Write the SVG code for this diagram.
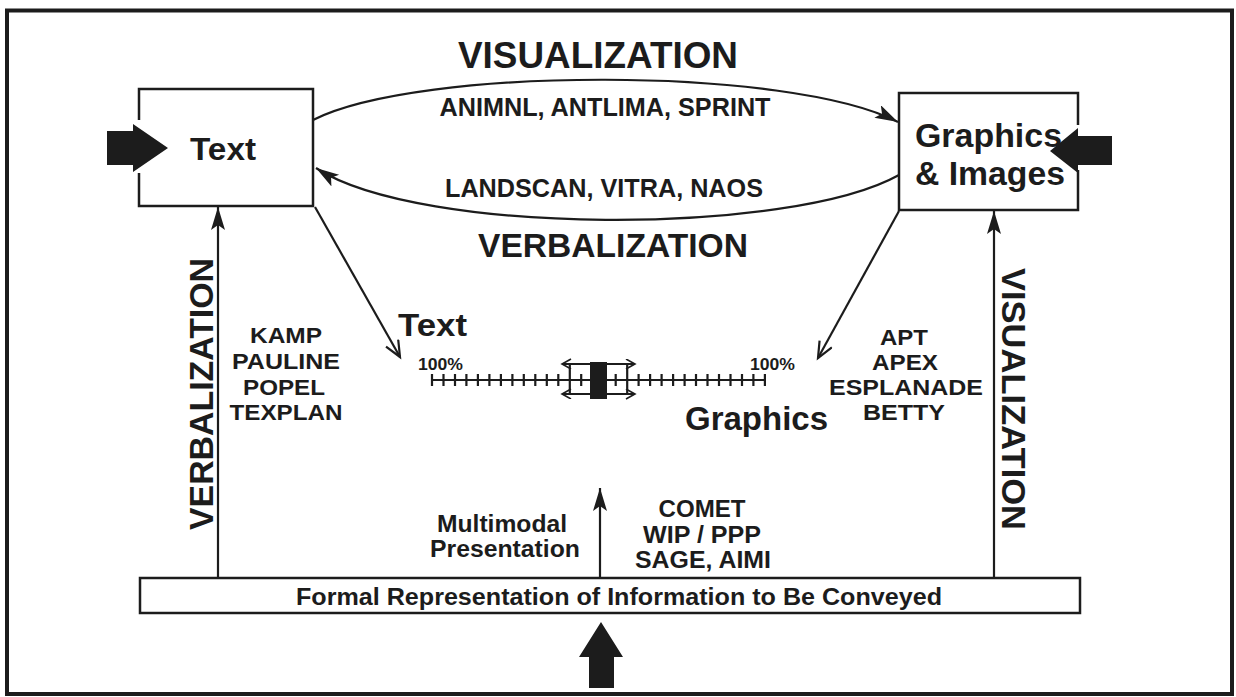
<svg xmlns="http://www.w3.org/2000/svg" width="1236" height="697" viewBox="0 0 1236 697">
<style>
  .t{font-family:"Liberation Sans",Arial,sans-serif;font-weight:bold;fill:#1c1c1c}
  .ln{fill:none;stroke:#1c1c1c;stroke-width:2.2}
  .box{fill:none;stroke:#1c1c1c;stroke-width:2.5}
  .blk{fill:#1c1c1c}
</style>
<defs>
  <marker id="fh" markerUnits="userSpaceOnUse" markerWidth="26" markerHeight="16" refX="23" refY="7" orient="auto">
    <path d="M0,0 L23,7 L0,14 L5,7 z" fill="#1c1c1c"/>
  </marker>
  <marker id="oh" markerUnits="userSpaceOnUse" markerWidth="20" markerHeight="18" refX="17" refY="8" orient="auto">
    <path d="M1,1 L17,8 L1,15" fill="none" stroke="#1c1c1c" stroke-width="2.2"/>
  </marker>
  <marker id="sh" markerUnits="userSpaceOnUse" markerWidth="12" markerHeight="12" refX="10" refY="5" orient="auto-start-reverse">
    <path d="M1,0 L10,5 L1,10" fill="none" stroke="#1c1c1c" stroke-width="1.6"/>
  </marker>
</defs>
<rect x="7" y="10.5" width="1225" height="683.5" fill="#fff" stroke="#1c1c1c" stroke-width="4"/>

<g id="connectors">
  <path class="ln" d="M313,120 C420,66 790,66 898,122" marker-end="url(#fh)"/>
  <path class="ln" d="M899,175 C790,236 420,236 316,168" marker-end="url(#fh)"/>
  <path class="ln" d="M218,578 L218,207" marker-end="url(#fh)"/>
  <path class="ln" d="M994,578 L994,211" marker-end="url(#fh)"/>
  <path class="ln" d="M600,578 L600,488" marker-end="url(#fh)"/>
  <path class="ln" d="M315,207 L400,357" marker-end="url(#oh)"/>
  <path class="ln" d="M899,211 L818,358" marker-end="url(#oh)"/>
</g>

<g id="text-node">
  <path class="box" d="M139,120 L139,89 L313,89 L313,206 L139,206 L139,173"/>
  <text class="t" x="190" y="160" font-size="32" textLength="66" lengthAdjust="spacingAndGlyphs">Text</text>
  <path class="blk" d="M107,131 L133,131 L133,124 L168,148 L133,172 L133,165 L107,165 z"/>
</g>

<g id="graphics-node">
  <path class="box" d="M1078,125 L1078,93 L899,93 L899,210 L1078,210 L1078,170"/>
  <text class="t" x="915" y="147" font-size="33" textLength="147" lengthAdjust="spacingAndGlyphs">Graphics</text>
  <text class="t" x="915" y="185" font-size="33" textLength="150" lengthAdjust="spacingAndGlyphs">&amp; Images</text>
  <path class="blk" d="M1112,136 L1078,136 L1078,128 L1050,151 L1078,173 L1078,165 L1112,165 z"/>
</g>

<g id="formal-node">
  <rect class="box" x="140" y="578" width="940" height="35" fill="#fff"/>
  <text class="t" x="619" y="605" font-size="23" text-anchor="middle" textLength="646" lengthAdjust="spacingAndGlyphs">Formal Representation of Information to Be Conveyed</text>
  <path class="blk" d="M601,622 L623,657 L614,657 L614,688 L589,688 L589,657 L579,657 z"/>
</g>

<g id="labels">
  <text class="t" x="598" y="68" font-size="36" text-anchor="middle" textLength="280" lengthAdjust="spacingAndGlyphs">VISUALIZATION</text>
  <text class="t" x="605" y="116" font-size="25" text-anchor="middle" textLength="331" lengthAdjust="spacingAndGlyphs">ANIMNL, ANTLIMA, SPRINT</text>
  <text class="t" x="604" y="197" font-size="25" text-anchor="middle" textLength="318" lengthAdjust="spacingAndGlyphs">LANDSCAN, VITRA, NAOS</text>
  <text class="t" x="613" y="257" font-size="33" text-anchor="middle" textLength="270" lengthAdjust="spacingAndGlyphs">VERBALIZATION</text>
  <text class="t" transform="translate(213,394) rotate(-90)" font-size="33" text-anchor="middle" textLength="272" lengthAdjust="spacingAndGlyphs">VERBALIZATION</text>
  <text class="t" transform="translate(1002,399) rotate(90)" font-size="34" text-anchor="middle" textLength="262" lengthAdjust="spacingAndGlyphs">VISUALIZATION</text>
  <g class="t" font-size="22" text-anchor="middle">
    <text x="286" y="343" textLength="72" lengthAdjust="spacingAndGlyphs">KAMP</text>
    <text x="286" y="369" textLength="108" lengthAdjust="spacingAndGlyphs">PAULINE</text>
    <text x="284" y="395" textLength="82" lengthAdjust="spacingAndGlyphs">POPEL</text>
    <text x="286" y="420" textLength="113" lengthAdjust="spacingAndGlyphs">TEXPLAN</text>
  </g>
  <g class="t" font-size="22" text-anchor="middle">
    <text x="904" y="345" textLength="48" lengthAdjust="spacingAndGlyphs">APT</text>
    <text x="905" y="370" textLength="66" lengthAdjust="spacingAndGlyphs">APEX</text>
    <text x="906" y="395" textLength="154" lengthAdjust="spacingAndGlyphs">ESPLANADE</text>
    <text x="904" y="420" textLength="82" lengthAdjust="spacingAndGlyphs">BETTY</text>
  </g>
  <text class="t" x="398" y="336" font-size="32" textLength="69" lengthAdjust="spacingAndGlyphs">Text</text>
  <text class="t" x="685" y="430" font-size="33" textLength="143" lengthAdjust="spacingAndGlyphs">Graphics</text>
  <text class="t" x="418" y="370" font-size="17" textLength="45" lengthAdjust="spacingAndGlyphs">100%</text>
  <text class="t" x="750" y="370" font-size="17" textLength="45" lengthAdjust="spacingAndGlyphs">100%</text>
  <text class="t" x="502" y="532" font-size="23" text-anchor="middle" textLength="130" lengthAdjust="spacingAndGlyphs">Multimodal</text>
  <text class="t" x="505" y="557" font-size="23" text-anchor="middle" textLength="150" lengthAdjust="spacingAndGlyphs">Presentation</text>
  <text class="t" x="702" y="517" font-size="23" text-anchor="middle" textLength="87" lengthAdjust="spacingAndGlyphs">COMET</text>
  <text class="t" x="702" y="543" font-size="23" text-anchor="middle" textLength="118" lengthAdjust="spacingAndGlyphs">WIP / PPP</text>
  <text class="t" x="703" y="568" font-size="23" text-anchor="middle" textLength="136" lengthAdjust="spacingAndGlyphs">SAGE, AIMI</text>
</g>

<g id="scale">
  <path class="ln" stroke-width="2.5" d="M432,380 H765"/>
  <path class="ln" stroke-width="2.2" d="M432,374V386 M443.5,374V386 M455,374V386 M466.4,374V386 M477.9,374V386 M489.4,374V386 M500.9,374V386 M512.4,374V386 M523.8,374V386 M535.3,374V386 M546.8,374V386 M558.3,374V386 M581.2,374V386 M615.7,374V386 M638.6,374V386 M650.1,374V386 M661.6,374V386 M673.1,374V386 M684.6,374V386 M696,374V386 M707.5,374V386 M719,374V386 M730.5,374V386 M742,374V386 M753.4,374V386 M764.9,374V386"/>
  <path class="ln" stroke-width="1.8" d="M569.8,364V394 M627.2,364V394"/>
  <path class="ln" stroke-width="1.8" d="M562,364 H635" marker-start="url(#sh)" marker-end="url(#sh)"/>
  <path class="ln" stroke-width="1.8" d="M562,394 H635" marker-start="url(#sh)" marker-end="url(#sh)"/>
  <rect class="blk" x="590" y="362" width="17" height="37"/>
</g>
</svg>
